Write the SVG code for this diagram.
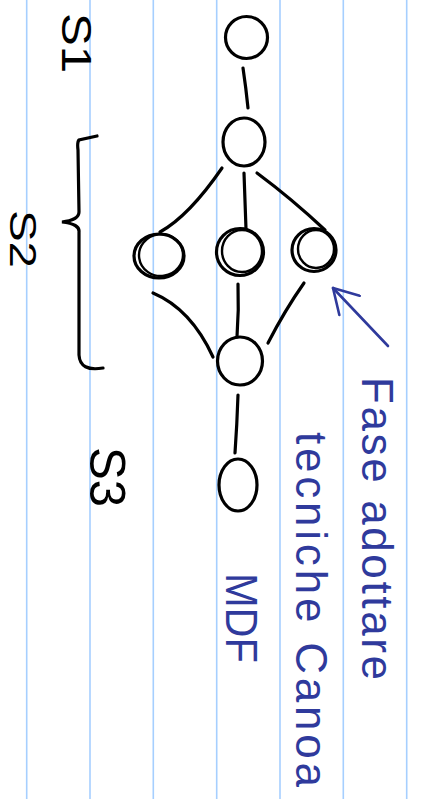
<svg xmlns="http://www.w3.org/2000/svg" width="422" height="799" viewBox="0 0 422 799">
<style>
.rule{stroke:#a6cfff;stroke-width:1.6;fill:none}
.node{fill:none;stroke:#000;stroke-width:3.2}
.node2{fill:none;stroke:#000;stroke-width:2.4}
.edge{fill:none;stroke:#000;stroke-width:3.2;stroke-linecap:round}
.ink{fill:none;stroke:#2f3a9c;stroke-width:2.6;stroke-linecap:round}
.lbl{font-family:"Liberation Sans",Arial,sans-serif;fill:#000}
.note{font-family:"Liberation Sans",Arial,sans-serif;fill:#2f3a9c}
</style>
<defs>
<marker id="openv" viewBox="0 0 30 30" refX="27" refY="15" markerWidth="30" markerHeight="30" markerUnits="userSpaceOnUse" orient="auto">
<path d="M3,1 L27,15 L3,29" fill="none" stroke="#2f3a9c" stroke-width="2.6" stroke-linecap="round" stroke-linejoin="round"/>
</marker>
</defs>
<rect width="422" height="799" fill="#fff"/>
<g id="rules">
<line class="rule" x1="26.7" y1="0" x2="26.7" y2="799"/>
<line class="rule" x1="90" y1="0" x2="90" y2="799"/>
<line class="rule" x1="153.3" y1="0" x2="153.3" y2="799"/>
<line class="rule" x1="216.7" y1="0" x2="216.7" y2="799"/>
<line class="rule" x1="280" y1="0" x2="280" y2="799"/>
<line class="rule" x1="343.3" y1="0" x2="343.3" y2="799"/>
<line class="rule" x1="406.7" y1="0" x2="406.7" y2="799"/>
</g>
<g id="connectors">
<path class="edge" d="M243,68 Q246,88 248,108"/>
<path class="edge" d="M222,168 Q189,216 160,232"/>
<path class="edge" d="M244,173 L246,229"/>
<path class="edge" d="M257,173 Q292,199 325,230"/>
<path class="edge" d="M153,293 Q191,309 213,357"/>
<path class="edge" d="M238,284 Q239,310 237,337"/>
<path class="edge" d="M304,283 Q285,310 268,343"/>
<path class="edge" d="M238,395 Q237,425 235,453"/>
<path class="ink" d="M388,346 L333,288" marker-end="url(#openv)"/>
</g>
<g id="n1"><ellipse class="node" cx="246.5" cy="37.5" rx="21" ry="21"/></g>
<g id="n2"><ellipse class="node" cx="244" cy="142" rx="21" ry="24"/></g>
<g id="n3"><ellipse class="node" cx="159" cy="256" rx="25" ry="22"/><ellipse class="node2" cx="161" cy="255" rx="22" ry="21" transform="rotate(-8 161 255)"/></g>
<g id="n4"><ellipse class="node" cx="240" cy="252" rx="23.5" ry="23.5"/><ellipse class="node2" cx="242" cy="251" rx="20" ry="21"/></g>
<g id="n5"><ellipse class="node" cx="314" cy="250" rx="22" ry="21.5"/><ellipse class="node2" cx="316" cy="249" rx="18" ry="19"/></g>
<g id="n6"><ellipse class="node" cx="240" cy="361" rx="22.5" ry="24"/></g>
<g id="n7"><ellipse class="node" cx="238" cy="485" rx="19" ry="26"/></g>
<g id="labels">
<text class="lbl" transform="translate(62,13) rotate(90)" font-size="42" textLength="60" lengthAdjust="spacingAndGlyphs">S1</text>
<text class="lbl" transform="translate(10,210) rotate(90)" font-size="37" textLength="58" lengthAdjust="spacingAndGlyphs">S2</text>
<text class="lbl" transform="translate(90,447) rotate(90)" font-size="50" textLength="60" lengthAdjust="spacingAndGlyphs">S3</text>
<path id="brace" class="edge" d="M97,136 L79,140 Q77,142 78,150 L79,212 Q79,220 62,222 Q80,224 79,232 L79,355 Q80,372 103,368"/>
<text class="note" transform="translate(362,377) rotate(90)" font-size="44" textLength="303" lengthAdjust="spacing">Fase adottare</text>
<text class="note" transform="translate(296,432) rotate(90)" font-size="44" textLength="355" lengthAdjust="spacing">tecniche Canoa</text>
<text class="note" transform="translate(226,573) rotate(90)" font-size="44" textLength="90" lengthAdjust="spacingAndGlyphs">MDF</text>
</g>
</svg>
